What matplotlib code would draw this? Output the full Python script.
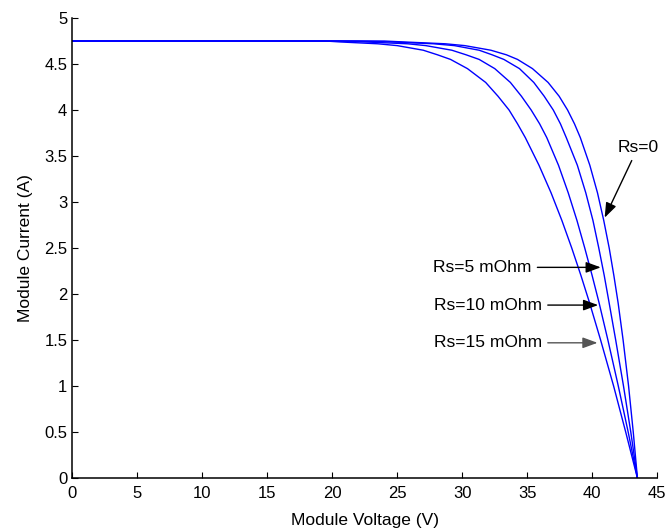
import matplotlib
matplotlib.use("Agg")
import matplotlib.pyplot as plt
from matplotlib.ticker import FormatStrFormatter

plt.rcParams['font.family'] = ['Liberation Sans', 'DejaVu Sans']

# module current (A), shared by the four curves
current = [4.75, 4.75, 4.74, 4.72, 4.70, 4.65, 4.60, 4.55, 4.45, 4.30, 4.15, 4.00,
           3.85, 3.70, 3.40, 3.10, 2.80, 2.50, 2.20, 1.90, 1.50, 1.00, 0.50, 0.00]

# module voltage (V) for each series resistance
v_rs0 = [0, 24.0, 25.5, 28.7, 30.2, 32.2, 33.4, 34.25, 35.4, 36.6, 37.45, 38.1,
         38.63, 39.08, 39.81, 40.40, 40.88, 41.30, 41.66, 41.99, 42.37, 42.79, 43.15, 43.47]
v_rs5 = [0, 22.0, 24.5, 27.8, 29.4, 31.3, 32.3, 33.2, 34.4, 35.5, 36.3, 37.0,
         37.55, 38.0, 38.85, 39.5, 40.05, 40.5, 40.92, 41.3, 41.8, 42.4, 42.96, 43.47]
v_rs10 = [0, 20.5, 22.5, 25.8, 27.2, 29.2, 30.3, 31.3, 32.5, 33.7, 34.55, 35.3,
          35.95, 36.5, 37.4, 38.15, 38.82, 39.42, 39.99, 40.53, 41.2, 42.0, 42.76, 43.47]
v_rs15 = [0, 19.5, 20.6, 23.5, 25.0, 27.0, 28.1, 29.1, 30.4, 31.8, 32.75, 33.6,
          34.25, 34.85, 35.9, 36.83, 37.66, 38.42, 39.13, 39.8, 40.64, 41.64, 42.57, 43.47]

# annotation labels, text anchor and arrow tip
labels = ["Rs=0", "Rs=5 mOhm", "Rs=10 mOhm", "Rs=15 mOhm"]
label_xy = [(43.5, 3.59), (35.35, 2.29), (36.15, 1.88), (36.15, 1.47)]
tip_xy = [(40.95, 2.83), (40.65, 2.29), (40.45, 1.88), (40.4, 1.47)]

fig = plt.figure(figsize=(6.68, 5.30), dpi=100)
ax = fig.add_axes([0.108, 0.098, 0.876, 0.868])

for v in [v_rs0, v_rs5, v_rs10, v_rs15]:
    ax.plot(v, current, color='#0000ff', lw=1.0)

for k, (txt, xy_t, xy) in enumerate(zip(labels, label_xy, tip_xy)):
    ha = 'center' if k == 0 else 'right'
    col = '#555555' if k == 3 else 'black'
    ax.annotate(txt, xy=xy, xytext=xy_t, ha=ha, va='center', fontsize=12.5,
                arrowprops=dict(arrowstyle='-|>,head_length=0.6,head_width=0.22',
                                color=col, lw=1.0, mutation_scale=15,
                                shrinkA=2, shrinkB=0))

ax.set_xlim(0, 45)
ax.set_ylim(0, 5)
ax.set_xticks(range(0, 46, 5))
ax.set_yticks([k * 0.5 for k in range(11)])
ax.yaxis.set_major_formatter(FormatStrFormatter('%g'))
ax.tick_params(direction='in', length=4, labelsize=12)
ax.tick_params(axis='x', pad=6)
for side in ['left', 'bottom']:
    ax.spines[side].set_linewidth(1.1)
ax.spines['top'].set_visible(False)
ax.spines['right'].set_visible(False)
ax.set_xlabel('Module Voltage (V)', fontsize=12.5, labelpad=8)
ax.set_ylabel('Module Current (A)', fontsize=12.5, labelpad=8)

fig.savefig('out.png', dpi=100)
